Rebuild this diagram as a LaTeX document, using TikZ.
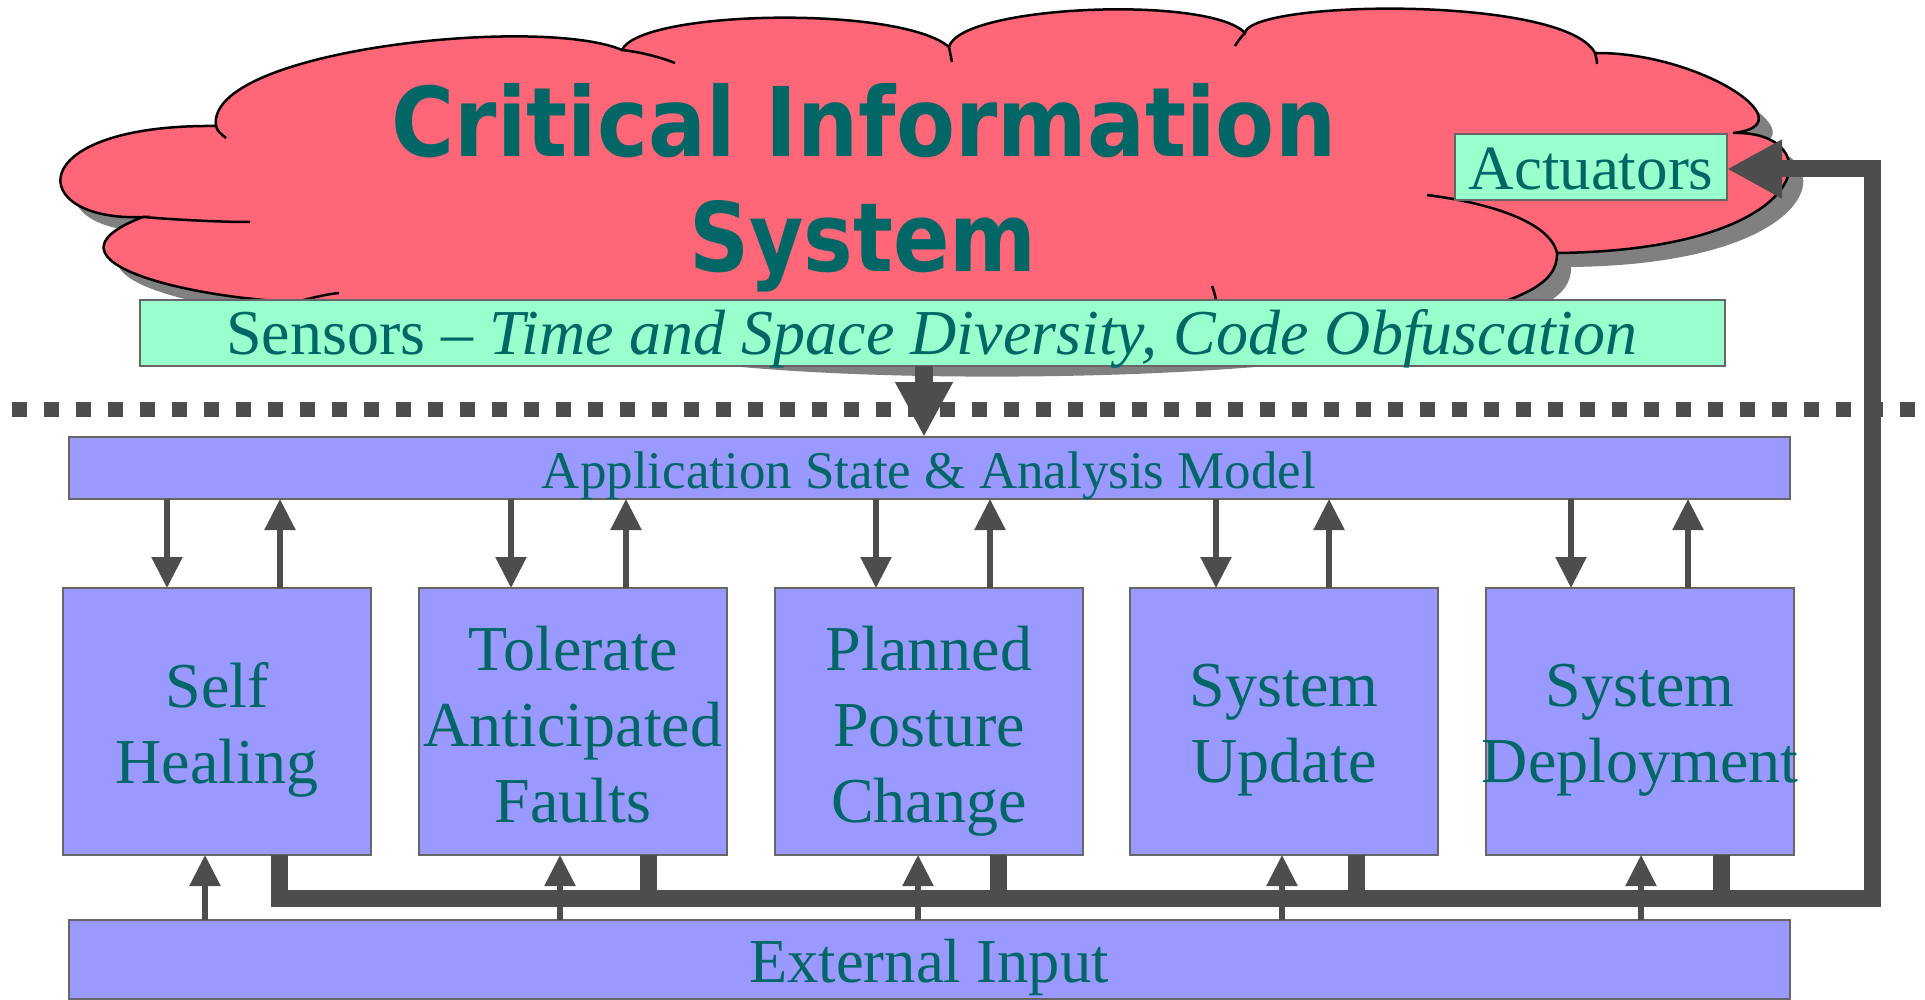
\documentclass[tikz,border=0pt]{standalone}
\usepackage{fontspec}
\setmainfont{Liberation Serif}
\newfontfamily\headfont{DejaVu Sans}
\usetikzlibrary{arrows.meta}

\definecolor{tealtext}{HTML}{006666}
\definecolor{mintfill}{HTML}{99FFCC}
\definecolor{bluefill}{HTML}{9999FF}
\definecolor{cloudred}{HTML}{FF6677}
\definecolor{shadowgrey}{HTML}{808080}
\definecolor{edgegrey}{HTML}{666666}
\definecolor{linkgrey}{HTML}{4D4D4D}

\tikzset{
  boxline/.style={draw=edgegrey, line width=2pt, inner sep=0pt, outer sep=0pt, anchor=north west},
  mintbox/.style={boxline, fill=mintfill},
  bluebox/.style={boxline, fill=bluefill},
  txt/.style={text=tealtext, inner sep=0pt, outer sep=0pt, anchor=base},
  modtxt/.style={txt, font=\fontsize{64}{76}\selectfont, align=center, text width=420pt},
  link/.style={draw=linkgrey, line width=5.5pt, -{Triangle[width=30pt,length=31pt]}},
  feed/.style={draw=linkgrey, line width=17pt},
  sensearrow/.style={draw=linkgrey, line width=18pt, -{Triangle[width=54pt,length=55pt]}},
  cloudline/.style={draw=black, line width=2.5pt},
  separator/.style={draw=linkgrey, line width=15pt, dash pattern=on 15pt off 17pt},
}

% outline of the cloud, bump by bump (clockwise from the lower left)
\def\cloudsil{(143,217) .. controls (25,222) and (20,124) .. (216,126)
 .. controls (205,50) and (540,15) .. (622,50)
 .. controls (640,10) and (900,5) .. (949,47)
 .. controls (960,5) and (1210,-5) .. (1245,33)
 .. controls (1250,0) and (1565,-5) .. (1595,53)
 .. controls (1700,52) and (1810,125) .. (1733,133)
 .. controls (1830,130) and (1820,250) .. (1557,253)
 .. controls (1558,285) and (1520,300) .. (1440,320)
 .. controls (1300,375) and (700,375) .. (600,330)
 .. controls (480,335) and (360,315) .. (300,302)
 .. controls (200,300) and (25,262) .. (143,217) -- cycle}

\begin{document}
\begin{tikzpicture}[x=1pt,y=-1pt]
\useasboundingbox (0,0) rectangle (1925,1000);

% cloud with its drop shadow
\begin{scope}[shift={(14,14)}]
  \fill[shadowgrey] \cloudsil;
\end{scope}
\fill[cloudred] \cloudsil;
\draw[cloudline] \cloudsil;
% short inner arcs where the bumps meet
\draw[cloudline] (216,126) .. controls (217,131) and (221,134) .. (226,138);
\draw[cloudline] (143,217) .. controls (180,220) and (220,222) .. (250,222);
\draw[cloudline] (300,301) .. controls (315,297) and (328,294) .. (339,293);
\draw[cloudline] (622,50) .. controls (640,52) and (660,57) .. (675,63);
\draw[cloudline] (949,47) .. controls (950,52) and (951,57) .. (952,62);
\draw[cloudline] (1245,33) .. controls (1241,37) and (1238,41) .. (1235,46);
\draw[cloudline] (1595,53) .. controls (1596,57) and (1597,60) .. (1597,64);
\draw[cloudline] (1427,195) .. controls (1490,203) and (1550,222) .. (1557,253);
\draw[cloudline] (1212,286) .. controls (1214,291) and (1215,295) .. (1216,300);

% title
\node[txt, font=\headfont\bfseries] (title1) at (864,157) {\resizebox{944pt}{73pt}{Critical Information}};
\node[txt, font=\headfont\bfseries] (title2) at (863,272) {\resizebox{347pt}{71pt}{System}};

% actuators and sensors
\node[mintbox, minimum width=272pt, minimum height=66pt] (act) at (1455,134) {};
\node[txt, font=\fontsize{63}{76}\selectfont] (actT) at (1591,190) {Actuators};
\node[mintbox, minimum width=1585pt, minimum height=66pt] (sens) at (140,300) {};
\node[txt, font=\fontsize{64}{76}\selectfont] (sensT) at (932,355) {Sensors – \textit{Time and Space Diversity, Code Obfuscation}};

% boundary of the protected system
\draw[separator] (12,409) -- (1925,409);

% analysis model
\node[bluebox, minimum width=1721pt, minimum height=62pt] (app) at (69,437) {};
\node[txt, font=\fontsize{53}{64}\selectfont] (appT) at (929,488) {Application State \& Analysis Model};

% adaptation mechanisms
\node[bluebox, minimum width=308pt, minimum height=267pt] (b1) at (63,588) {};
\node[bluebox, minimum width=308pt, minimum height=267pt] (b2) at (419,588) {};
\node[bluebox, minimum width=308pt, minimum height=267pt] (b3) at (775,588) {};
\node[bluebox, minimum width=308pt, minimum height=267pt] (b4) at (1130,588) {};
\node[bluebox, minimum width=308pt, minimum height=267pt] (b5) at (1486,588) {};
\node[modtxt] (t1) at (217,707) {Self\\Healing};
\node[modtxt] (t2) at (573,670) {Tolerate\\Anticipated\\Faults};
\node[modtxt] (t3) at (929,670) {Planned\\Posture\\Change};
\node[modtxt] (t4) at (1284,706) {System\\Update};
\node[modtxt] (t5) at (1640,706) {System\\Deployment};

% external input
\node[bluebox, minimum width=1721pt, minimum height=79pt] (ext) at (69,920) {};
\node[txt, font=\fontsize{62.5}{75}\selectfont] (extT) at (929,982) {External Input};

% x positions of the connectors
\coordinate (sx) at (924,0);
\coordinate (d1) at (167,0);  \coordinate (a1) at (280,0);
\coordinate (d2) at (511,0);  \coordinate (a2) at (626,0);
\coordinate (d3) at (876,0);  \coordinate (a3) at (990,0);
\coordinate (d4) at (1216,0); \coordinate (a4) at (1329,0);
\coordinate (d5) at (1571,0); \coordinate (a5) at (1688,0);
\coordinate (u1) at (205,0);  \coordinate (s1) at (279,0);
\coordinate (u2) at (560,0);  \coordinate (s2) at (648,0);
\coordinate (u3) at (918,0);  \coordinate (s3) at (998,0);
\coordinate (u4) at (1282,0); \coordinate (s4) at (1356,0);
\coordinate (u5) at (1641,0); \coordinate (s5) at (1721,0);
\coordinate (busR) at (1872,898);
\coordinate (actIn) at (0,169);

% sensors feed the model
\draw[sensearrow] (sens.south -| sx) -- (app.north -| sx);

% model <-> mechanisms, and external input into each mechanism
\foreach \i in {1,...,5}{
  \draw[link] (app.south -| d\i) -- (b\i.north -| d\i);
  \draw[link] (b\i.north -| a\i) -- (app.south -| a\i);
  \draw[link] (ext.north -| u\i) -- (b\i.south -| u\i);
}

% responses collected on the bus and sent to the actuators
\foreach \i in {2,...,5}{
  \draw[feed] (b\i.south -| s\i) -- (s\i |- busR);
}
\draw[feed, -{Triangle[width=55pt,length=55pt]}] (b1.south -| s1) |- (busR) |- (act.east |- actIn);
\end{tikzpicture}
\end{document}
